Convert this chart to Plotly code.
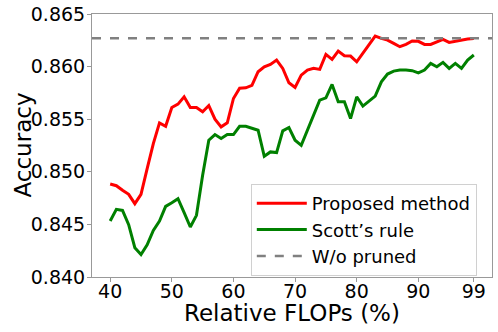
import plotly.graph_objects as go

# relative FLOPs (%)
flops = list(range(40, 100))

proposed = [0.84884, 0.84868, 0.84824, 0.84786, 0.84697, 0.84786, 0.85030, 0.85268, 0.85465, 0.85433,
            0.85611, 0.85643, 0.85713, 0.85611, 0.85611, 0.85570, 0.85630, 0.85500, 0.85427, 0.85465,
            0.85697, 0.85795, 0.85798, 0.85821, 0.85951, 0.85998, 0.86021, 0.86062, 0.85983, 0.85846,
            0.85802, 0.85919, 0.85967, 0.85983, 0.85973, 0.86116, 0.86068, 0.86148, 0.86103, 0.86100,
            0.86046, 0.86125, 0.86214, 0.86290, 0.86268, 0.86252, 0.86221, 0.86189, 0.86211, 0.86243,
            0.86240, 0.86211, 0.86211, 0.86237, 0.86259, 0.86230, 0.86243, 0.86252, 0.86262, 0.86268]

scott = [0.84532, 0.84643, 0.84633, 0.84497, 0.84278, 0.84214, 0.84306, 0.84443, 0.84532, 0.84671,
         0.84706, 0.84744, 0.84611, 0.84475, 0.84586, 0.84967, 0.85300, 0.85354, 0.85316, 0.85354,
         0.85354, 0.85433, 0.85433, 0.85417, 0.85395, 0.85148, 0.85189, 0.85183, 0.85389, 0.85421,
         0.85300, 0.85252, 0.85395, 0.85538, 0.85681, 0.85703, 0.85830, 0.85665, 0.85665, 0.85506,
         0.85713, 0.85624, 0.85675, 0.85719, 0.85855, 0.85929, 0.85957, 0.85967, 0.85967, 0.85961,
         0.85941, 0.85967, 0.86030, 0.85998, 0.86040, 0.85983, 0.86030, 0.85983, 0.86062, 0.86110]

unpruned = 0.86270

x_ticks = [40, 50, 60, 70, 80, 90, 99]
y_ticks = [0.840, 0.845, 0.850, 0.855, 0.860, 0.865]

FONT = "DejaVu Sans"

fig = go.Figure()
fig.add_trace(go.Scatter(x=flops, y=proposed, mode="lines", name="Proposed method",
                         line=dict(color="#ff0000", width=3)))
fig.add_trace(go.Scatter(x=flops, y=scott, mode="lines", name="Scott\u2019s rule",
                         line=dict(color="#008000", width=3)))
fig.add_hline(y=unpruned, line=dict(color="#808080", width=2.5, dash="dash"),
              showlegend=True, name="W/o pruned")

fig.update_layout(
    width=498, height=332,
    margin=dict(l=92, r=6, t=14, b=55),
    plot_bgcolor="white", paper_bgcolor="white",
    font=dict(family=FONT, size=19, color="black"),
    showlegend=True,
    legend=dict(x=0.962, y=0.004, xanchor="right", yanchor="bottom",
                bgcolor="rgba(255,255,255,0.8)", bordercolor="#d0d0d0", borderwidth=1,
                font=dict(size=18), tracegroupgap=0, itemwidth=50),
    annotations=[
        dict(text="Relative FLOPs (%)", x=0.5, y=0, xref="paper", yref="paper",
             xanchor="center", yanchor="middle", yshift=-36, showarrow=False,
             font=dict(size=23)),
        dict(text="Accuracy", x=0, y=0.5, xref="paper", yref="paper", textangle=-90,
             xanchor="center", yanchor="middle", xshift=-70, showarrow=False,
             font=dict(size=23)),
    ],
)
fig.update_xaxes(range=[37.05, 101.95], tickvals=x_ticks, ticktext=[str(v) for v in x_ticks],
                 showgrid=False, zeroline=False, showline=True, linecolor="#999999", linewidth=1,
                 mirror=True, ticks="outside", ticklen=4, tickcolor="#999999", automargin=False,
                 ticklabelstandoff=-7)
fig.update_yaxes(range=[0.840, 0.865], tickvals=y_ticks, ticktext=["%.3f" % v for v in y_ticks],
                 showgrid=False, zeroline=False, showline=True, linecolor="#999999", linewidth=1,
                 mirror=True, ticks="outside", ticklen=4, tickcolor="#999999", automargin=False,
                 ticklabelstandoff=-2)

# the page keeps the browser's default 8px body margin otherwise
fig.write_html("out.html", config={"displayModeBar": False},
               post_script="document.body.style.margin='0px';")
